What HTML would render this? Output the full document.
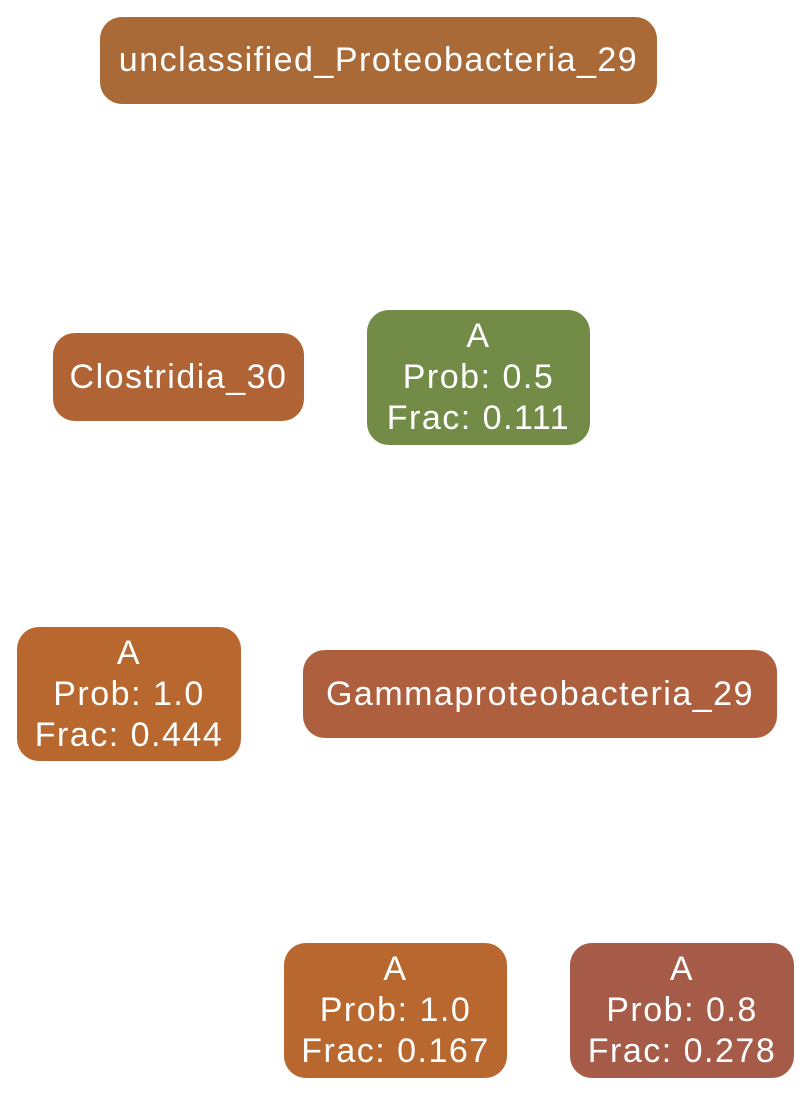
<!DOCTYPE html>
<html><head><style>
body{margin:0;width:811px;height:1096px;background:#fff;position:relative;font-family:"Liberation Sans",Arial,sans-serif;}
.n{position:absolute;color:#fff;border-radius:22px;display:flex;flex-direction:column;align-items:center;justify-content:center;font-size:34px;letter-spacing:1.5px;line-height:41px;text-align:center;white-space:nowrap;}
</style></head><body>
<div class="n" style="left:100px;top:17px;width:557px;height:87px;background:#aa6a38">unclassified_Proteobacteria_29</div>
<div class="n" style="left:53px;top:333px;width:251px;height:88px;background:#b06436">Clostridia_30</div>
<div class="n" style="left:367px;top:310px;width:223px;height:135px;background:#728c48"><div>A</div><div>Prob: 0.5</div><div>Frac: 0.111</div></div>
<div class="n" style="left:17px;top:627px;width:224px;height:134px;background:#b8682e"><div>A</div><div>Prob: 1.0</div><div>Frac: 0.444</div></div>
<div class="n" style="left:303px;top:650px;width:474px;height:88px;background:#ae603e">Gammaproteobacteria_29</div>
<div class="n" style="left:284px;top:943px;width:223px;height:135px;background:#b8672e"><div>A</div><div>Prob: 1.0</div><div>Frac: 0.167</div></div>
<div class="n" style="left:570px;top:943px;width:224px;height:135px;background:#a65a48"><div>A</div><div>Prob: 0.8</div><div>Frac: 0.278</div></div>
</body></html>
